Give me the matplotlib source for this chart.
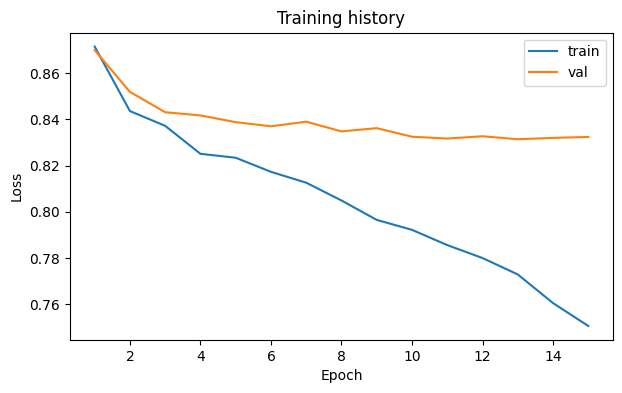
import matplotlib
matplotlib.use("Agg")
import matplotlib.pyplot as plt

# loss values per epoch
epochs = list(range(1, 16))
train_loss = [0.8715, 0.8436, 0.8372, 0.8251, 0.8234, 0.8173, 0.8126, 0.8049,
              0.7965, 0.7922, 0.7856, 0.7800, 0.7729, 0.7605, 0.7506]
val_loss = [0.8700, 0.8519, 0.8431, 0.8417, 0.8388, 0.8370, 0.8390, 0.8348,
            0.8362, 0.8325, 0.8317, 0.8327, 0.8314, 0.8320, 0.8324]

fig = plt.figure(figsize=(6.22, 3.93), dpi=100)
ax = fig.add_subplot(111)
ax.plot(epochs, train_loss, label="train")
ax.plot(epochs, val_loss, label="val")
ax.set_xlabel("Epoch")
ax.set_ylabel("Loss")
ax.set_title("Training history")
ax.legend()

fig.subplots_adjust(left=0.1125, right=0.9855, top=0.917, bottom=0.135)
plt.savefig("out.png")
